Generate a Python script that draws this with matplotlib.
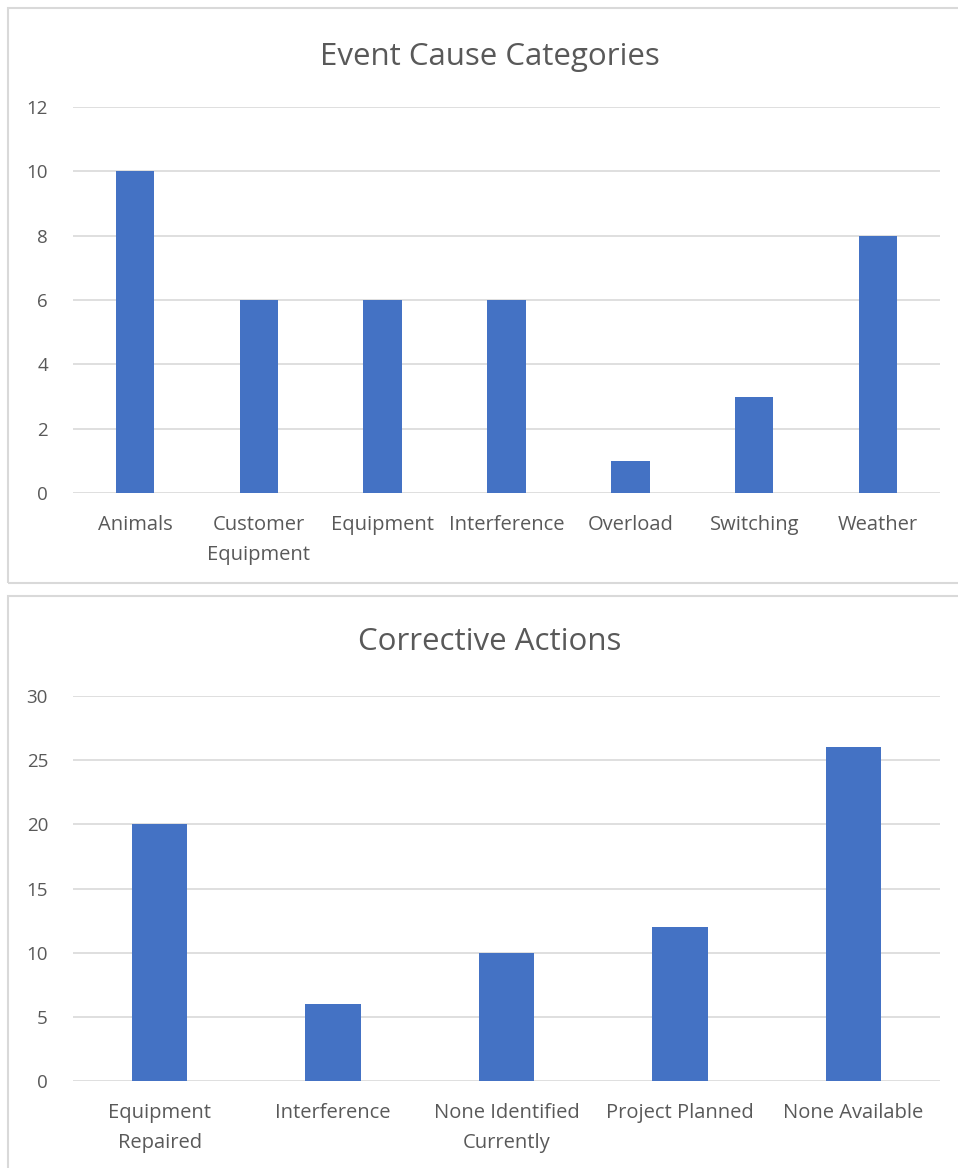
import matplotlib.pyplot as plt
from matplotlib.patches import Rectangle

plt.rcParams['font.family'] = ['Open Sans', 'DejaVu Sans']

cause_labels = ['Animals', 'Customer\nEquipment', 'Equipment', 'Interference',
                'Overload', 'Switching', 'Weather']
cause_counts = [10, 6, 6, 6, 1, 3, 8]

action_labels = ['Equipment\nRepaired', 'Interference', 'None Identified\nCurrently',
                 'Project Planned', 'None Available']
action_counts = [20, 6, 10, 12, 26]

bar_color = '#4472C4'
grid_color = '#D9D9D9'
text_color = '#595959'

W, H = 958, 1168
fig = plt.figure(figsize=(W / 100, H / 100), dpi=100)

# panel borders
for y0, y1 in [(8, 583), (596, 1175)]:
    fig.patches.append(Rectangle((8 / W, 1 - y1 / H), (960 - 8) / W, (y1 - y0) / H,
                                 transform=fig.transFigure, fill=False,
                                 edgecolor=grid_color, linewidth=1.5))


def bar_panel(rect, labels, counts, ymax, step, width, title, title_y):
    ax = fig.add_axes(rect)
    x = range(len(labels))
    ax.bar(x, counts, width=width, color=bar_color, zorder=3)
    ax.set_xlim(-0.5, len(labels) - 0.5)
    ax.set_ylim(0, ymax)
    ax.set_yticks(range(0, ymax + 1, step))
    ax.set_xticks(list(x))
    ax.set_xticklabels(labels, linespacing=1.62)
    ax.grid(axis='y', color=grid_color, linewidth=1.2, zorder=0)
    for s in ax.spines.values():
        s.set_visible(False)
    ax.tick_params(length=0, colors=text_color)
    ax.tick_params(axis='x', pad=16, labelsize=14.5)
    ax.tick_params(axis='y', pad=18, labelsize=13.5)
    fig.text(0.511, 1 - title_y / H, title, ha='center', va='center',
             fontsize=22.5, color=text_color)
    return ax


bar_panel([73 / W, 1 - 493 / H, 867 / W, (493 - 107) / H], cause_labels, cause_counts,
          12, 2, 0.31, 'Event Cause Categories', 57)
bar_panel([73 / W, 1 - 1081 / H, 867 / W, (1081 - 696) / H], action_labels, action_counts,
          30, 5, 0.32, 'Corrective Actions', 642)

fig.savefig('out.png', dpi=100)
